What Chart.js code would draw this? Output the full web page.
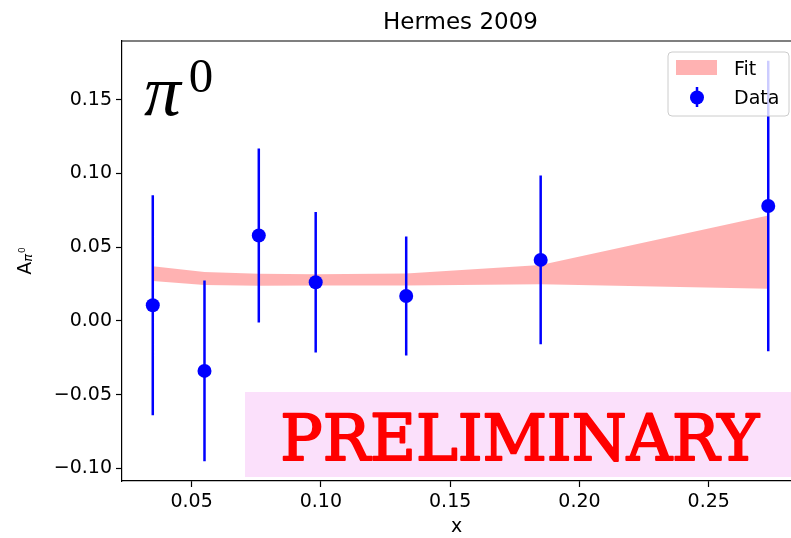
<!DOCTYPE html>
<html lang="en">
<head>
  <meta charset="UTF-8">
  <meta name="viewport" content="width=device-width, initial-scale=1.0">
  <title>Hermes 2009</title>
  <style>
    html, body { margin: 0; padding: 0; background: #fff; overflow: hidden; }
    .chart-box { position: relative; width: 791px; height: 538px; }
  </style>
</head>
<body>

  <div class="chart-box">
    <canvas id="graphic"></canvas>
  </div>

  <!-- ChartJS -->
  <script src="https://cdn.jsdelivr.net/npm/chart.js"></script>

  <script>
    // data
    const xValues = [0.035, 0.055, 0.076, 0.098, 0.133, 0.185, 0.273];
    const asymmetry = [0.0106, -0.0339, 0.0580, 0.0262, 0.0169, 0.0414, 0.0780];
    const errors = [0.0746, 0.0613, 0.0590, 0.0477, 0.0403, 0.0572, 0.0985];
    const fitLower = [0.0271, 0.0243, 0.0238, 0.0240, 0.0240, 0.0248, 0.0218];
    const fitUpper = [0.0371, 0.0332, 0.0320, 0.0316, 0.0322, 0.0379, 0.0716];
    const xTicks = [0.05, 0.10, 0.15, 0.20, 0.25];
    const yTicks = [-0.10, -0.05, 0.00, 0.05, 0.10, 0.15];

    const title = 'Hermes 2009';
    const xLabel = 'x';
    const stamp = 'PRELIMINARY';

    const xMin = 0.0231, xMax = 0.2818;
    const yMin = -0.1086, yMax = 0.1899;

    const fmt = v => {
      if (Math.abs(v) < 1e-9) v = 0;
      return v.toFixed(2).replace('-', '\u2212');
    };

    // error bars as one broken line: low, high, gap
    const barPoints = [];
    xValues.forEach((x, i) => {
      barPoints.push({ x: x, y: asymmetry[i] - errors[i] });
      barPoints.push({ x: x, y: asymmetry[i] + errors[i] });
      barPoints.push({ x: x, y: null });
    });

    // fit a text into a pixel box
    function fitText(ctx, text, font, left, top, right, bottom, color, stroke) {
      ctx.save();
      ctx.font = font;
      const m = ctx.measureText(text);
      const w = m.actualBoundingBoxLeft + m.actualBoundingBoxRight;
      const h = m.actualBoundingBoxAscent + m.actualBoundingBoxDescent;
      const sx = (right - left) / w, sy = (bottom - top) / h;
      ctx.translate(left, top);
      ctx.scale(sx, sy);
      ctx.fillStyle = color;
      ctx.textBaseline = 'alphabetic';
      ctx.textAlign = 'left';
      ctx.fillText(text, m.actualBoundingBoxLeft, m.actualBoundingBoxAscent);
      if (stroke) {
        ctx.strokeStyle = color;
        ctx.lineJoin = 'round';
        ctx.lineWidth = stroke / Math.sqrt(sx * sy);
        ctx.strokeText(text, m.actualBoundingBoxLeft, m.actualBoundingBoxAscent);
      }
      ctx.restore();
    }

    const decorations = {
      id: 'decorations',
      afterDraw(chart) {
        const ctx = chart.ctx;
        const area = chart.chartArea;
        const xs = chart.scales.x;

        // top spine
        ctx.save();
        ctx.strokeStyle = '#000';
        ctx.lineWidth = 1.2;
        ctx.beginPath();
        ctx.moveTo(area.left - 0.6, area.top);
        ctx.lineTo(area.right, area.top);
        ctx.stroke();

        // title, centred over the full axes
        ctx.fillStyle = '#000';
        ctx.font = '23px "DejaVu Sans"';
        ctx.textAlign = 'center';
        ctx.textBaseline = 'alphabetic';
        ctx.fillText(title, xs.getPixelForValue(0.154), 29);

        // y label A_{pi^0}
        ctx.translate(31, 261);
        ctx.rotate(-Math.PI / 2);
        ctx.textAlign = 'left';
        ctx.font = '19px "DejaVu Sans"';
        const wA = ctx.measureText('A').width;
        ctx.font = 'italic 13px "DejaVu Sans"';
        const wP = ctx.measureText('\u03c0').width;
        ctx.font = '9px "DejaVu Sans"';
        const w0 = ctx.measureText('0').width;
        let x0 = -(wA + wP + w0 + 1) / 2;
        ctx.font = '19px "DejaVu Sans"';
        ctx.fillText('A', x0, 0);
        ctx.font = 'italic 13px "DejaVu Sans"';
        ctx.fillText('\u03c0', x0 + wA, 1);
        ctx.font = '9px "DejaVu Sans"';
        ctx.fillText('0', x0 + wA + wP + 1, -6);
        ctx.restore();

        // pi^0 label
        fitText(ctx, '\u03c0', 'italic 64px "Liberation Serif"', 144, 82, 183, 116, '#000');
        fitText(ctx, '0', '40px "Liberation Serif"', 190, 61, 212, 92, '#000');

        // preliminary stamp
        ctx.save();
        ctx.fillStyle = 'rgba(238, 130, 238, 0.25)';
        ctx.fillRect(245, 392, 560, 85);
        ctx.restore();
        fitText(ctx, stamp, '71px "DejaVu Serif"', 283, 413, 760, 461, '#ff0000', 2);

        // legend
        ctx.save();
        const lx = 668, ly = 52, lw = 121, lh = 64, r = 4;
        ctx.beginPath();
        ctx.moveTo(lx + r, ly);
        ctx.arcTo(lx + lw, ly, lx + lw, ly + lh, r);
        ctx.arcTo(lx + lw, ly + lh, lx, ly + lh, r);
        ctx.arcTo(lx, ly + lh, lx, ly, r);
        ctx.arcTo(lx, ly, lx + lw, ly, r);
        ctx.closePath();
        ctx.fillStyle = 'rgba(255, 255, 255, 0.8)';
        ctx.fill();
        ctx.strokeStyle = '#cccccc';
        ctx.lineWidth = 1;
        ctx.stroke();

        ctx.fillStyle = 'rgba(255, 0, 0, 0.3)';
        ctx.fillRect(676, 60, 41, 15);

        ctx.strokeStyle = '#0000ff';
        ctx.lineWidth = 2.5;
        ctx.beginPath();
        ctx.moveTo(697, 87);
        ctx.lineTo(697, 107);
        ctx.stroke();
        ctx.fillStyle = '#0000ff';
        ctx.beginPath();
        ctx.arc(697, 97.5, 7, 0, Math.PI * 2);
        ctx.fill();

        ctx.fillStyle = '#000';
        ctx.font = '19px "DejaVu Sans"';
        ctx.textAlign = 'left';
        ctx.textBaseline = 'alphabetic';
        ctx.fillText('Fit', 734, 75);
        ctx.fillText('Data', 734, 104);
        ctx.restore();
      }
    };

    const lienzo = document.getElementById('graphic');
    const grafico = new Chart(lienzo, {
      type: 'scatter',
      data: {
        datasets: [
          {
            label: 'Data',
            data: xValues.map((x, i) => ({ x: x, y: asymmetry[i] })),
            backgroundColor: '#0000ff',
            borderWidth: 0,
            pointRadius: 7,
            pointHoverRadius: 7
          },
          {
            type: 'line',
            label: 'bars',
            data: barPoints,
            borderColor: '#0000ff',
            borderWidth: 2.5,
            pointRadius: 0,
            spanGaps: false,
            fill: false
          },
          {
            type: 'line',
            label: 'fit low',
            data: xValues.map((x, i) => ({ x: x, y: fitLower[i] })),
            borderColor: 'transparent',
            borderWidth: 0,
            pointRadius: 0,
            fill: false
          },
          {
            type: 'line',
            label: 'Fit',
            data: xValues.map((x, i) => ({ x: x, y: fitUpper[i] })),
            borderColor: 'transparent',
            borderWidth: 0,
            pointRadius: 0,
            backgroundColor: 'rgba(255, 0, 0, 0.3)',
            fill: '-1'
          }
        ]
      },
      options: {
        responsive: true,
        maintainAspectRatio: false,
        animation: false,
        events: [],
        layout: {
          autoPadding: false,
          padding: { top: 41, right: 0, bottom: 0, left: 0 }
        },
        plugins: {
          legend: { display: false },
          title: { display: false },
          tooltip: { enabled: false }
        },
        scales: {
          x: {
            type: 'linear',
            min: xMin,
            max: xMax,
            afterBuildTicks: scale => { scale.ticks = xTicks.map(v => ({ value: v })); },
            afterFit: scale => {
              scale.height = 57;
              scale.paddingLeft = 0;
              scale.paddingRight = 0;
            },
            ticks: {
              color: '#000',
              font: { family: 'DejaVu Sans', size: 19 },
              padding: 4,
              maxRotation: 0,
              callback: v => fmt(v)
            },
            grid: {
              drawOnChartArea: false,
              drawTicks: true,
              tickLength: 6,
              tickColor: '#000',
              tickWidth: 1.2
            },
            border: { display: true, color: '#000', width: 1.2 },
            title: {
              display: true,
              text: xLabel,
              color: '#000',
              font: { family: 'DejaVu Sans', size: 19 },
              padding: { top: 2, bottom: 0 }
            }
          },
          y: {
            type: 'linear',
            min: yMin,
            max: yMax,
            afterBuildTicks: scale => { scale.ticks = yTicks.map(v => ({ value: v })); },
            afterFit: scale => {
              scale.width = 122;
              scale.paddingTop = 0;
              scale.paddingBottom = 0;
            },
            ticks: {
              color: '#000',
              font: { family: 'DejaVu Sans', size: 19 },
              padding: 4,
              callback: v => fmt(v)
            },
            grid: {
              drawOnChartArea: false,
              drawTicks: true,
              tickLength: 6,
              tickColor: '#000',
              tickWidth: 1.2
            },
            border: { display: true, color: '#000', width: 1.2 }
          }
        }
      },
      plugins: [decorations]
    });
  </script>
</body>
</html>
